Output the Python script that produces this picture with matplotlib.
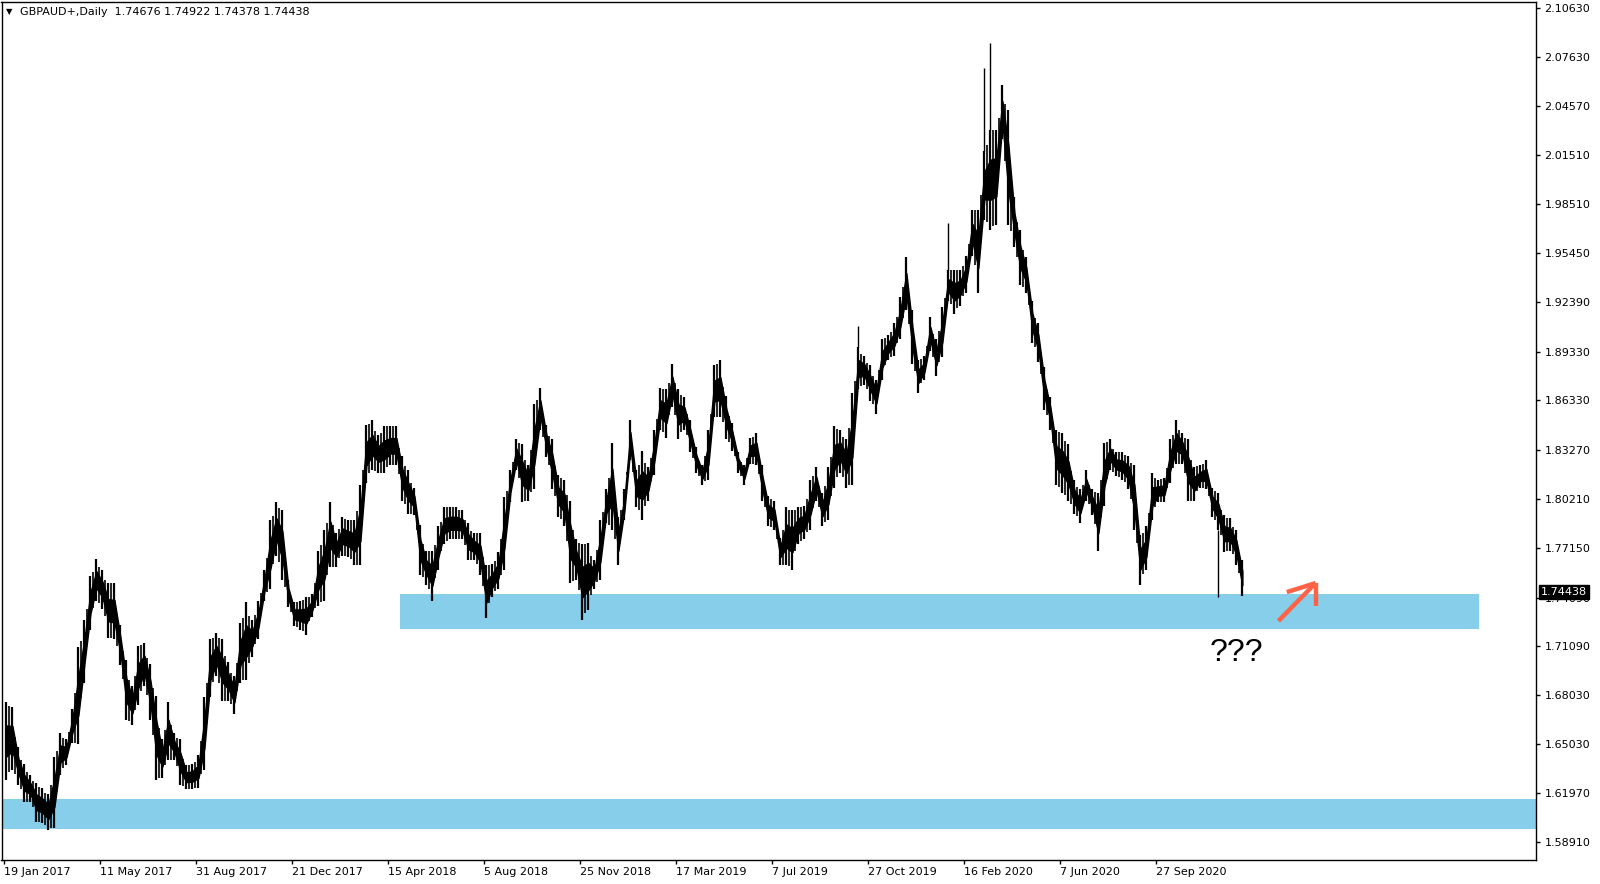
import matplotlib
matplotlib.use('Agg')
import matplotlib.pyplot as plt

# GBPAUD daily (5 daily bars per entry).
# highs / lows are the body of the price band, the thin spikes are kept apart.
week_high = [
    1.676, 1.673, 1.648, 1.638, 1.631, 1.626, 1.623, 1.619, 1.642, 1.657,
    1.653, 1.672, 1.710, 1.727, 1.754, 1.765, 1.758, 1.750, 1.750, 1.724,
    1.702, 1.686, 1.711, 1.713, 1.700, 1.680, 1.653, 1.676, 1.657, 1.653,
    1.637, 1.638, 1.643, 1.679, 1.715, 1.719, 1.715, 1.701, 1.692, 1.725,
    1.738, 1.727, 1.739, 1.758, 1.789, 1.800, 1.795, 1.752, 1.738, 1.739,
    1.741, 1.743, 1.770, 1.783, 1.800, 1.781, 1.791, 1.789, 1.789, 1.811,
    1.848, 1.851, 1.842, 1.847, 1.847, 1.847, 1.829, 1.820, 1.809, 1.786,
    1.770, 1.770, 1.785, 1.797, 1.797, 1.797, 1.795, 1.787, 1.781, 1.781,
    1.761, 1.762, 1.769, 1.803, 1.820, 1.839, 1.836, 1.823, 1.861, 1.871,
    1.848, 1.839, 1.817, 1.814, 1.801, 1.777, 1.774, 1.775, 1.764, 1.789,
    1.808, 1.837, 1.791, 1.808, 1.851, 1.820, 1.832, 1.822, 1.845, 1.871,
    1.870, 1.886, 1.870, 1.865, 1.851, 1.834, 1.823, 1.845, 1.885, 1.888,
    1.866, 1.849, 1.831, 1.823, 1.840, 1.843, 1.823, 1.804, 1.801, 1.778,
    1.797, 1.795, 1.797, 1.798, 1.814, 1.822, 1.806, 1.822, 1.847, 1.845,
    1.839, 1.868, 1.896, 1.891, 1.885, 1.876, 1.901, 1.904, 1.911, 1.927,
    1.952, 1.919, 1.888, 1.891, 1.915, 1.901, 1.921, 1.944, 1.944, 1.944,
    1.953, 1.981, 1.981, 2.018, 2.031, 2.031, 2.059, 2.043, 1.989, 1.969,
    1.952, 1.925, 1.911, 1.884, 1.865, 1.845, 1.843, 1.836, 1.814, 1.808,
    1.820, 1.808, 1.806, 1.837, 1.839, 1.831, 1.831, 1.829, 1.823, 1.780,
    1.785, 1.818, 1.814, 1.815, 1.839, 1.851, 1.843, 1.839, 1.822, 1.823,
    1.826, 1.809, 1.806, 1.792, 1.790, 1.783, 1.764,
]
week_low = [
    1.628, 1.634, 1.625, 1.614, 1.614, 1.602, 1.601, 1.597, 1.598, 1.631,
    1.637, 1.651, 1.650, 1.688, 1.721, 1.739, 1.734, 1.716, 1.715, 1.699,
    1.665, 1.662, 1.674, 1.686, 1.665, 1.628, 1.629, 1.640, 1.640, 1.625,
    1.622, 1.622, 1.623, 1.634, 1.679, 1.692, 1.677, 1.677, 1.669, 1.688,
    1.690, 1.704, 1.715, 1.739, 1.746, 1.767, 1.752, 1.735, 1.723, 1.721,
    1.718, 1.729, 1.736, 1.739, 1.760, 1.760, 1.767, 1.766, 1.761, 1.761,
    1.812, 1.820, 1.818, 1.818, 1.823, 1.823, 1.801, 1.793, 1.792, 1.755,
    1.749, 1.739, 1.758, 1.774, 1.777, 1.777, 1.777, 1.764, 1.764, 1.755,
    1.728, 1.741, 1.746, 1.758, 1.800, 1.820, 1.800, 1.801, 1.808, 1.845,
    1.828, 1.808, 1.791, 1.785, 1.750, 1.752, 1.727, 1.733, 1.746, 1.752,
    1.787, 1.783, 1.761, 1.789, 1.826, 1.797, 1.789, 1.801, 1.817, 1.845,
    1.840, 1.859, 1.839, 1.845, 1.831, 1.818, 1.811, 1.814, 1.853, 1.853,
    1.839, 1.832, 1.818, 1.811, 1.824, 1.823, 1.801, 1.785, 1.783, 1.761,
    1.761, 1.758, 1.774, 1.777, 1.783, 1.801, 1.785, 1.789, 1.809, 1.818,
    1.809, 1.811, 1.870, 1.873, 1.863, 1.855, 1.876, 1.888, 1.891, 1.901,
    1.919, 1.886, 1.868, 1.876, 1.894, 1.878, 1.890, 1.925, 1.917, 1.922,
    1.930, 1.953, 1.930, 1.975, 1.969, 1.972, 2.025, 1.972, 1.958, 1.935,
    1.930, 1.899, 1.887, 1.857, 1.845, 1.811, 1.806, 1.801, 1.793, 1.787,
    1.801, 1.792, 1.770, 1.798, 1.820, 1.816, 1.814, 1.808, 1.783, 1.749,
    1.758, 1.789, 1.800, 1.800, 1.812, 1.824, 1.824, 1.801, 1.801, 1.809,
    1.808, 1.791, 1.783, 1.769, 1.770, 1.761, 1.742,
]
# single-day spikes
spike_up_week = [142, 157, 163, 164]
spike_up_price = [1.909, 1.973, 2.069, 2.085]
spike_down_week = [202]
spike_down_price = [1.741]

last_price = 1.74438
header = 'GBPAUD+,Daily  1.74676 1.74922 1.74378 1.74438'

date_labels = ['19 Jan 2017', '11 May 2017', '31 Aug 2017', '21 Dec 2017',
               '15 Apr 2018', '5 Aug 2018', '25 Nov 2018', '17 Mar 2019',
               '7 Jul 2019', '27 Oct 2019', '16 Feb 2020', '7 Jun 2020',
               '27 Sep 2020']
bars_per_label = 80
price_ticks = [2.10630, 2.07630, 2.04570, 2.01510, 1.98510, 1.95450, 1.92390,
               1.89330, 1.86330, 1.83270, 1.80210, 1.77150, 1.74090, 1.71090,
               1.68030, 1.65030, 1.61970, 1.58910]

# support zones (price range, bar range)
zone_top = (1.7214, 1.7431)
zone_top_bars = (330, 1229)
zone_bottom = (1.5974, 1.6160)

# hand drawn arrow and question marks
arrow_tail = (1062, 1.7264)
arrow_tip = (1093, 1.7499)
arrow_arm_left = (1069, 1.7443)
arrow_arm_down = (1093, 1.7357)
note_pos = (1027, 1.7065)

x_left, x_right = -2.1, 1276.7
y_bottom, y_top = 1.5782, 2.1102

fig = plt.figure(figsize=(16, 8.84), dpi=100)
ax = fig.add_axes([1.5 / 1600, 24 / 884, 1534.5 / 1600, 858 / 884])
ax.set_xlim(x_left, x_right)
ax.set_ylim(y_bottom, y_top)

# zones
ax.axhspan(zone_bottom[0], zone_bottom[1], color='#87CEEB', lw=0, zorder=1)
ax.fill_between(zone_top_bars, zone_top[0], zone_top[1], color='#87CEEB', lw=0, zorder=1)

# price band: thinner core plus the full weekly range as bars
week_x = [5 * i + 2 for i in range(len(week_high))]
core_top = [h - 0.3 * (h - l) for h, l in zip(week_high, week_low)]
core_bot = [l + 0.3 * (h - l) for h, l in zip(week_high, week_low)]
ax.fill_between(week_x, core_bot, core_top, color='black', lw=1.0,
                edgecolor='black', zorder=3)
ax.vlines(week_x, week_low, week_high, color='black', lw=1.6, zorder=3)
ax.vlines([x + 2.5 for x in week_x[:-1]],
          [max(a, b) - 0.25 * abs(a - b) for a, b in zip(week_low[:-1], week_low[1:])],
          [min(a, b) + 0.25 * abs(a - b) for a, b in zip(week_high[:-1], week_high[1:])],
          color='black', lw=1.2, zorder=3)
ax.vlines([week_x[i] for i in spike_up_week],
          [week_high[i] for i in spike_up_week], spike_up_price,
          color='black', lw=1.0, zorder=3)
ax.vlines([week_x[i] for i in spike_down_week], spike_down_price,
          [week_low[i] for i in spike_down_week], color='black', lw=1.0, zorder=3)

# arrow
arrow_color = '#FF6347'
for end in (arrow_tail, arrow_arm_left, arrow_arm_down):
    ax.plot([end[0], arrow_tip[0]], [end[1], arrow_tip[1]], color=arrow_color,
            lw=3.2, solid_capstyle='butt', zorder=4)
ax.text(note_pos[0], note_pos[1], '???', fontsize=23, family='Liberation Sans',
        ha='center', va='center', zorder=4)

# axes look like the terminal
for s in ax.spines.values():
    s.set_color('black')
    s.set_linewidth(1.0)
ax.yaxis.tick_right()
ax.set_yticks(price_ticks)
ax.set_yticklabels([f'{p:.5f}' for p in price_ticks])
ax.set_xticks([k * bars_per_label for k in range(len(date_labels))])
ax.set_xticklabels(date_labels)
for lab in ax.get_xticklabels():
    lab.set_horizontalalignment('left')
ax.tick_params(axis='both', labelsize=8, length=3, width=1, color='black',
               direction='out')
ax.tick_params(axis='y', pad=3)
ax.tick_params(axis='x', pad=2)

ax.annotate(f'{last_price:.5f}', xy=(1.0, last_price),
            xycoords=('axes fraction', 'data'), xytext=(5, 0),
            textcoords='offset pixels', ha='left', va='center', color='white',
            fontsize=8, zorder=10,
            bbox=dict(boxstyle='square,pad=0.2', fc='black', ec='black'))

fig.text(6 / 1600, 1 - 12 / 884, '\u25bc', fontsize=6, va='center')
fig.text(20 / 1600, 1 - 12 / 884, header, fontsize=8, va='center')

fig.savefig('out.png', dpi=100)
